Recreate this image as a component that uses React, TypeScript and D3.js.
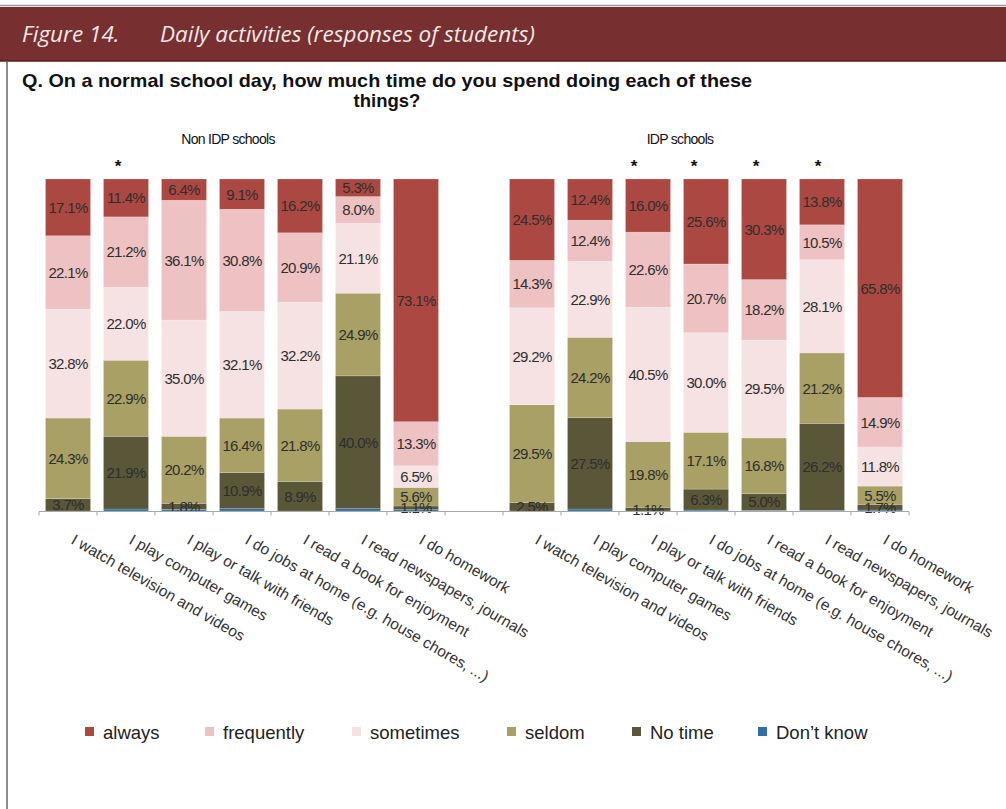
import React from 'react';
import * as d3 from 'd3';

const categories = [
  'I watch television and videos',
  'I play computer games',
  'I play or talk with friends',
  'I do jobs at home (e.g. house chores, ...)',
  'I read a book for enjoyment',
  'I read newspapers, journals',
  'I do homework',
];
const groupNames = ['Non IDP schools', 'IDP schools'];
const seriesKeys = ['dontKnow', 'noTime', 'seldom', 'sometimes', 'frequently', 'always'];
const seriesLabels = ['Don\u2019t know', 'No time', 'seldom', 'sometimes', 'frequently', 'always'];
const seriesColors = ['#2f6fa8', '#5a5638', '#a8a064', '#f6e2e2', '#eec2c2', '#ac4842'];

// Non IDP schools
const nonAlways = [17.1, 11.4, 6.4, 9.1, 16.2, 5.3, 73.1];
const nonFrequently = [22.1, 21.2, 36.1, 30.8, 20.9, 8.0, 13.3];
const nonSometimes = [32.8, 22.0, 35.0, 32.1, 32.2, 21.1, 6.5];
const nonSeldom = [24.3, 22.9, 20.2, 16.4, 21.8, 24.9, 5.6];
const nonNoTime = [3.7, 21.9, 1.8, 10.9, 8.9, 40.0, 1.1];
const nonDontKnow = [0.0, 0.6, 0.5, 0.7, 0.0, 0.7, 0.4];
const nonStar = [false, true, false, false, false, false, false];

// IDP schools
const idpAlways = [24.5, 12.4, 16.0, 25.6, 30.3, 13.8, 65.8];
const idpFrequently = [14.3, 12.4, 22.6, 20.7, 18.2, 10.5, 14.9];
const idpSometimes = [29.2, 22.9, 40.5, 30.0, 29.5, 28.1, 11.8];
const idpSeldom = [29.5, 24.2, 19.8, 17.1, 16.8, 21.2, 5.5];
const idpNoTime = [2.5, 27.5, 1.1, 6.3, 5.0, 26.2, 1.7];
const idpDontKnow = [0.0, 0.6, 0.0, 0.3, 0.2, 0.2, 0.3];
const idpStar = [false, false, true, true, true, true, false];

const FONT = '"Liberation Sans", Arial, Helvetica, sans-serif';

type Row = { slot: string; cat: string; star: boolean; [k: string]: any };

function buildRows(prefix: string, a: number[], f: number[], s: number[], se: number[], n: number[], d: number[], star: boolean[]): Row[] {
  return categories.map((c, i) => ({
    slot: prefix + i,
    cat: c,
    star: star[i],
    always: a[i],
    frequently: f[i],
    sometimes: s[i],
    seldom: se[i],
    noTime: n[i],
    dontKnow: d[i],
  }));
}

export default function App() {
  const rowsA = buildRows('n', nonAlways, nonFrequently, nonSometimes, nonSeldom, nonNoTime, nonDontKnow, nonStar);
  const rowsB = buildRows('i', idpAlways, idpFrequently, idpSometimes, idpSeldom, idpNoTime, idpDontKnow, idpStar);
  const rows = [...rowsA, ...rowsB];
  const slots = [...rowsA.map((r) => r.slot), 'gap', ...rowsB.map((r) => r.slot)];

  const x = d3.scaleBand<string>().domain(slots).range([39, 909]).paddingInner(0.224).paddingOuter(0.112);
  const y = d3.scaleLinear().domain([0, 1]).range([511, 179]);
  const stack = d3.stack<Row>().keys(seriesKeys).offset(d3.stackOffsetExpand);
  const stacked = stack(rows);

  const step = x.step();
  const half = (step * x.paddingInner()) / 2;
  const boundaries = slots.map((s) => (x(s) as number) - half);
  boundaries.push((x(slots[slots.length - 1]) as number) + x.bandwidth() + half);

  const starDx: Record<string, number> = { n1: -8, i2: -14, i3: -12, i4: -8, i5: -4 };

  const legendX = [85, 205, 352, 507, 632, 758];
  const legendOrder = [5, 4, 3, 2, 1, 0];

  return (
    <svg width={1006} height={809} style={{ position: 'absolute', left: 0, top: 0, background: '#fff' }} fontFamily={FONT}>
      <rect x={0} y={0} width={1006} height={809} fill="#ffffff" />
      {/* header */}
      <line x1={0} x2={1006} y1={5.5} y2={5.5} stroke="#9a9a9a" strokeWidth={1.5} />
      <rect x={0} y={7} width={1006} height={54} fill="#772f2f" />
      <line x1={0} x2={1006} y1={61} y2={61} stroke="#5a1f1f" strokeWidth={1.5} />
      <text x={22} y={42} fill="#f4e9e9" fontSize={22.5} fontStyle="italic" fontFamily='"Open Sans", sans-serif'>Figure 14.</text>
      <text x={160} y={42} fill="#f4e9e9" fontSize={22.5} fontStyle="italic" fontFamily='"Open Sans", sans-serif'>Daily activities (responses of students)</text>
      <line x1={7} x2={7} y1={62} y2={809} stroke="#8a8a8a" strokeWidth={2} />

      <text x={22} y={87} fontSize={18.5} fontWeight="bold" fill="#111" textLength={730} lengthAdjust="spacingAndGlyphs">Q.  On a normal school day, how much time do you spend doing each of these</text>
      <text x={387} y={107} fontSize={18.5} fontWeight="bold" fill="#111" textAnchor="middle">things?</text>

      <text x={228} y={144} fontSize={14} fill="#111" textAnchor="middle" letterSpacing={-0.7}>{groupNames[0]}</text>
      <text x={680} y={144} fontSize={14} fill="#111" textAnchor="middle" letterSpacing={-0.7}>{groupNames[1]}</text>

      {rows.filter((r) => r.star).map((r) => (
        <text key={'st' + r.slot} x={(x(r.slot) as number) + x.bandwidth() / 2 + (starDx[r.slot] || 0)} y={172} fontSize={17} fontWeight="bold" textAnchor="middle" fill="#111">*</text>
      ))}

      {/* bars */}
      {stacked.map((layer, li) => (
        <g key={layer.key} fill={seriesColors[li]}>
          {layer.map((d) => {
            const h = y(d[0]) - y(d[1]);
            return (
              <rect key={d.data.slot} x={x(d.data.slot)} y={y(d[1])} width={x.bandwidth()} height={Math.max(0, h)} stroke="rgba(255,255,255,0.3)" strokeWidth={0.6} />
            );
          })}
        </g>
      ))}

      {/* value labels */}
      {stacked.map((layer) =>
        layer.key === 'dontKnow'
          ? null
          : layer.map((d) => (
              <text
                key={'lb' + layer.key + d.data.slot}
                x={(x(d.data.slot) as number) + x.bandwidth() / 2}
                y={(y(d[0]) + y(d[1])) / 2}
                dy="0.36em"
                textAnchor="middle"
                fontSize={15}
                letterSpacing={-0.7}
                fill="#2e2e2e"
              >
                {(d.data[layer.key] as number).toFixed(1)}%
              </text>
            ))
      )}

      {/* axis */}
      <g stroke="#a8a8a8" strokeWidth={1}>
        <line x1={boundaries[0]} x2={boundaries[boundaries.length - 1]} y1={511.5} y2={511.5} />
        {boundaries.map((b, i) => (
          <line key={'tk' + i} x1={b} x2={b} y1={511.5} y2={515.5} />
        ))}
      </g>

      {/* category labels */}
      {rows.map((r) => {
        const cx = (x(r.slot) as number) + x.bandwidth() / 2 + 2;
        const cy = 543;
        return (
          <text key={'cl' + r.slot} transform={`translate(${cx},${cy}) rotate(30)`} fontSize={15.5} fill="#333">
            {r.cat}
          </text>
        );
      })}

      {/* legend */}
      {legendOrder.map((si, i) => (
        <g key={'lg' + si}>
          <rect x={legendX[i]} y={727} width={9} height={9} fill={seriesColors[si]} />
          <text x={legendX[i] + 18} y={739} fontSize={18.5} fill="#222">{seriesLabels[si]}</text>
        </g>
      ))}
    </svg>
  );
}
